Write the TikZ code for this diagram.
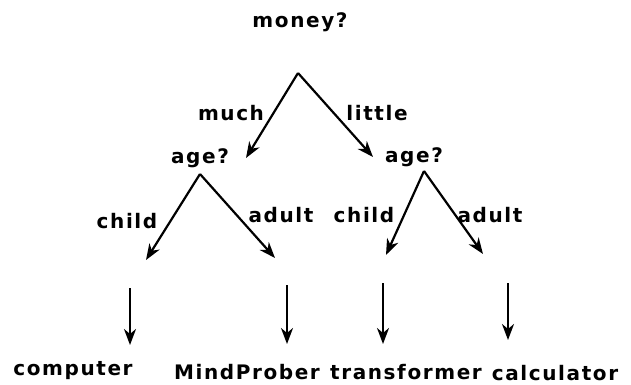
\documentclass[tikz,border=0pt]{standalone}
\usepackage{fontspec}
\setmainfont{DejaVu Sans}
\newfontfamily\lblfont{DejaVu Sans}[LetterSpace=8]
\usetikzlibrary{arrows.meta}
\begin{document}
\begin{tikzpicture}[x=1pt,y=-1pt,
  lbl/.style={inner sep=0pt,anchor=center,font=\lblfont\fontsize{20}{23}\selectfont\bfseries},
  arr/.style={line width=2.2pt,-{Stealth[length=16pt,width=12pt,inset=5pt]}}]
\useasboundingbox (0,0) rectangle (631,385);
% question nodes
\node[lbl] (money) at (300,22) {money?};
\node[lbl] (ageL) at (200,158) {age?};
\node[lbl] (ageR) at (414,157) {age?};
% branch points and arrow ends
\coordinate (apexT) at (298,73);
\coordinate (endTL) at (246,158);
\coordinate (endTR) at (373,157);
\coordinate (apexL) at (200,174);
\coordinate (endLL) at (146,260);
\coordinate (endLR) at (275,258);
\coordinate (apexR) at (424,171);
\coordinate (endRL) at (386,255);
\coordinate (endRR) at (483,254);
% edge labels
\node[lbl] (much) at (231,113) {much};
\node[lbl] (little) at (377,113) {little};
\node[lbl] (childL) at (127,221) {child};
\node[lbl] (adultL) at (281,215) {adult};
\node[lbl] (childR) at (364,215) {child};
\node[lbl] (adultR) at (490,215) {adult};
% leaves
\node[lbl] (computer) at (73,371) {computer};
\node[lbl] (mind) at (247,372) {MindProber};
\node[lbl] (trans) at (406,372) {transformer};
\node[lbl] (calc) at (555,373) {calculator};
% vertical arrow coordinates
\coordinate (v1a) at (130,288); \coordinate (v1b) at (130,345);
\coordinate (v2a) at (287,285); \coordinate (v2b) at (287,344);
\coordinate (v3a) at (383,283); \coordinate (v3b) at (383,344);
\coordinate (v4a) at (508,283); \coordinate (v4b) at (508,340);
% arrows
\draw[arr] (apexT) -- (endTL);
\draw[arr] (apexT) -- (endTR);
\draw[arr] (apexL) -- (endLL);
\draw[arr] (apexL) -- (endLR);
\draw[arr] (apexR) -- (endRL);
\draw[arr] (apexR) -- (endRR);
\draw[arr] (v1a) -- (v1b);
\draw[arr] (v2a) -- (v2b);
\draw[arr] (v3a) -- (v3b);
\draw[arr] (v4a) -- (v4b);
\end{tikzpicture}
\end{document}
